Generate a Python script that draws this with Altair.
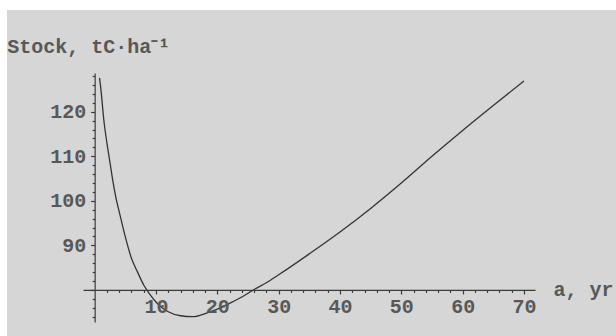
import altair as alt
import pandas as pd

# Carbon stock of a stand against age after disturbance
age = [0.8, 1, 1.5, 2, 2.5, 3, 3.5, 4, 5, 6, 7, 8, 9, 10, 11, 12, 14, 16, 18,
       20, 22, 24, 26, 28, 30, 35, 40, 45, 50, 55, 60, 65, 70]
stock = [127.6, 125.3, 118.1, 113.0, 108.6, 104.2, 100.5, 97.6, 91.9, 87.1,
         84.0, 81.1, 79.0, 77.3, 76.0, 75.1, 74.2, 74.0, 74.7, 75.7, 77.0,
         78.4, 80.1, 81.6, 83.4, 88.1, 93.0, 98.3, 104.0, 110.0, 115.8,
         121.4, 126.9]

x_ticks = list(range(2, 71, 2))
y_ticks = list(range(74, 129, 2))

df = pd.DataFrame({"age": age, "stock": stock})

X_DOM = [-1.9, 71.8]
Y_DOM = [72.8, 128.7]
ORIGIN_X, ORIGIN_Y = 0, 80
W, H = 452, 249

# axes cross at (0, 80) as in a classic math plot
x_off = -(ORIGIN_Y - Y_DOM[0]) / (Y_DOM[1] - Y_DOM[0]) * H
y_off = -(ORIGIN_X - X_DOM[0]) / (X_DOM[1] - X_DOM[0]) * W

FONT = "Liberation Mono"
INK = "#3a3a3a"
TEXT = "#585858"
PANEL = "#d6d6d6"
FS = 20

x_axis = alt.Axis(
    orient="bottom", offset=x_off, values=x_ticks, zindex=1,
    labelExpr="datum.value % 10 === 0 ? datum.label : ''",
    labelOverlap=False, labelFlush=False, grid=False,
    tickSize={"condition": {"test": "datum.value % 10 === 0", "value": 4}, "value": 2.5},
    tickColor=INK, domainColor=INK, domainWidth=1.2, tickWidth=1.2,
    labelFont=FONT, labelFontSize=FS, labelColor=TEXT, labelPadding=3,
    labelFontWeight="bold",
    title="a, yr", titleFont=FONT, titleFontSize=FS, titleFontWeight="bold",
    titleColor=TEXT, titleAngle=0, titleAlign="left",
    titleBaseline="alphabetic", titleX=470, titleY=6,
)
y_axis = alt.Axis(
    orient="left", offset=y_off, values=y_ticks, zindex=1,
    labelExpr="datum.value % 10 === 0 && datum.value !== 80 ? datum.label : ''",
    labelOverlap=False, labelFlush=False, grid=False,
    tickSize={"condition": {"test": "datum.value % 10 === 0", "value": 4}, "value": 2.5},
    tickColor=INK, domainColor=INK, domainWidth=1.2, tickWidth=1.2,
    labelFont=FONT, labelFontSize=FS, labelColor=TEXT, labelPadding=5,
    labelFontWeight="bold",
    title="Stock, tC·ha⁻¹", titleFont=FONT, titleFontSize=FS,
    titleFontWeight="bold", titleColor=TEXT, titleAngle=0,
    titleAlign="left", titleBaseline="alphabetic", titleX=-88, titleY=-21,
)

panel = alt.Chart(pd.DataFrame({"k": [0]})).mark_rect(color=PANEL).encode(
    x=alt.value(-76), x2=alt.value(W + 100), y=alt.value(-63), y2=alt.value(H + 40)
)

curve = alt.Chart(df).mark_line(
    color="#333333", strokeWidth=1.3, interpolate="monotone", clip=True
).encode(
    x=alt.X("age:Q", scale=alt.Scale(domain=X_DOM, nice=False, zero=False), axis=x_axis),
    y=alt.Y("stock:Q", scale=alt.Scale(domain=Y_DOM, nice=False, zero=False), axis=y_axis),
)

chart = alt.layer(panel, curve).properties(
    width=W, height=H,
    autosize=alt.AutoSizeParams(type="none"),
    padding={"left": 83, "top": 73, "right": 81, "bottom": 14},
    background="white",
).configure_view(stroke=None)

chart.save("out.html", embed_options={"renderer": "svg", "actions": False})
